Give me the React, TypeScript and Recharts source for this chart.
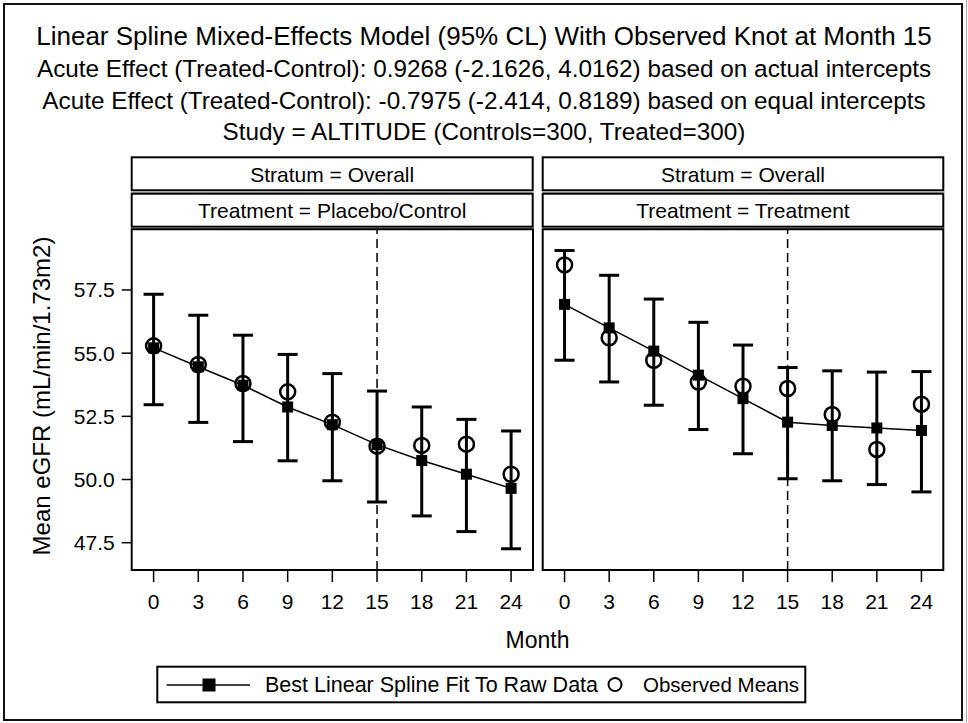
import React from 'react';
import {
  ComposedChart,
  Line,
  Scatter,
  XAxis,
  YAxis,
  ErrorBar,
  ReferenceLine,
  ReferenceArea,
} from 'recharts';

// visit months
const months = [0, 3, 6, 9, 12, 15, 18, 21, 24];

// placebo / control arm
const ctrlFit = [55.21, 54.46, 53.73, 52.87, 52.17, 51.38, 50.75, 50.21, 49.65];
const ctrlObs = [55.29, 54.55, 53.8, 53.47, 52.27, 51.32, 51.35, 51.4, 50.21];
const ctrlLo = [52.96, 52.26, 51.5, 50.74, 49.95, 49.11, 48.56, 47.94, 47.26];
const ctrlHi = [57.33, 56.5, 55.71, 54.95, 54.19, 53.5, 52.87, 52.38, 51.92];

// treatment arm
const trtFit = [56.93, 56.0, 55.08, 54.13, 53.2, 52.27, 52.14, 52.04, 51.94];
const trtObs = [58.49, 55.61, 54.72, 53.86, 53.69, 53.6, 52.57, 51.19, 52.98];
const trtLo = [54.72, 53.86, 52.94, 51.98, 51.02, 50.03, 49.95, 49.8, 49.51];
const trtHi = [59.06, 58.08, 57.14, 56.22, 55.32, 54.43, 54.3, 54.25, 54.27];

const yTicks = [47.5, 50, 52.5, 55, 57.5];
const knotMonth = 15;

const titleLines = [
  'Linear Spline Mixed-Effects Model (95% CL) With Observed Knot at Month 15',
  'Acute Effect (Treated-Control): 0.9268 (-2.1626, 4.0162) based on actual intercepts',
  'Acute Effect (Treated-Control): -0.7975 (-2.414, 0.8189) based on equal intercepts',
  'Study = ALTITUDE (Controls=300, Treated=300)',
];
const titleSizes = [26, 24.3, 24.3, 24.3];
const titleBaselines = [45, 77, 109, 140];

const FONT = '"Liberation Sans", Arial, sans-serif';
const X_DOMAIN: [number, number] = [-1.47, 25.47];
const Y_DOMAIN: [number, number] = [46.42, 59.9];

const buildRows = (fit: number[], obs: number[], lo: number[], hi: number[]) =>
  months.map((m, i) => ({
    month: m,
    fit: fit[i],
    obs: obs[i],
    ci: [fit[i] - lo[i], hi[i] - fit[i]],
  }));

const ctrlRows = buildRows(ctrlFit, ctrlObs, ctrlLo, ctrlHi);
const trtRows = buildRows(trtFit, trtObs, trtLo, trtHi);

const SquareDot = (props: any) => {
  const { cx, cy } = props;
  if (cx == null || cy == null) return null;
  return <rect x={cx - 5.5} y={cy - 5.5} width={11} height={11} fill="#000" />;
};

const OpenCircle = (props: any) => {
  const { cx, cy } = props;
  return <circle cx={cx} cy={cy} r={7.5} fill="none" stroke="#000" strokeWidth={2.5} />;
};

const tickStyle = { fontSize: 21, fill: '#000', fontFamily: FONT };

interface PanelProps {
  rows: typeof ctrlRows;
  showY: boolean;
  width: number;
  margin: { top: number; right: number; bottom: number; left: number };
}

const Panel: React.FC<PanelProps> = ({ rows, showY, width, margin }) => (
  <ComposedChart width={width} height={430} data={rows} margin={margin}>
    <XAxis
      dataKey="month"
      type="number"
      domain={X_DOMAIN}
      ticks={months}
      allowDataOverflow
      axisLine={false}
      tickSize={12}
      tickMargin={12}
      height={60}
      tickLine={{ stroke: '#000', strokeWidth: 1.5 }}
      tick={tickStyle}
      interval={0}
    />
    <YAxis
      type="number"
      domain={Y_DOMAIN}
      ticks={yTicks}
      allowDataOverflow
      hide={!showY}
      width={131.7}
      axisLine={false}
      tickSize={10}
      tickMargin={7}
      tickLine={{ stroke: '#000', strokeWidth: 1.5 }}
      tick={tickStyle}
      tickFormatter={(v: number) => v.toFixed(1)}
      interval={0}
    />
    <ReferenceArea
      x1={X_DOMAIN[0]}
      x2={X_DOMAIN[1]}
      y1={Y_DOMAIN[0]}
      y2={Y_DOMAIN[1]}
      fill="none"
      stroke="#000"
      strokeWidth={2}
      fillOpacity={0}
    />
    <ReferenceLine x={knotMonth} stroke="#000" strokeWidth={1.5} strokeDasharray="9 5" />
    <Line
      dataKey="fit"
      stroke="#000"
      strokeWidth={1.5}
      dot={<SquareDot />}
      activeDot={false}
      isAnimationActive={false}
    >
      <ErrorBar dataKey="ci" direction="y" width={10} stroke="#000" strokeWidth={3} />
    </Line>
    <Scatter dataKey="obs" shape={<OpenCircle />} isAnimationActive={false} />
  </ComposedChart>
);

const StripBox: React.FC<{ x: number; y: number; w: number; label: string }> = ({ x, y, w, label }) => (
  <g>
    <rect x={x} y={y} width={w} height={33} fill="#fff" stroke="#000" strokeWidth={2} />
    <line x1={x} y1={y + 35} x2={x + w} y2={y + 35} stroke="#999" strokeWidth={1} />
    <text x={x + w / 2} y={y + 24.2} textAnchor="middle" fontSize={21} fontFamily={FONT} fill="#000">
      {label}
    </text>
  </g>
);

export default function App() {
  return (
    <div style={{ position: 'absolute', left: 0, top: 0, width: 968, height: 723, background: '#fff' }}>
      <svg width={968} height={723} style={{ position: 'absolute', left: 0, top: 0 }}>
        <rect x={4} y={4} width={958} height={716} fill="none" stroke="#111" strokeWidth={2} />
        <line x1={966.5} y1={0} x2={966.5} y2={723} stroke="#aaa" strokeWidth={1} />
        {titleLines.map((t, i) => (
          <text
            key={i}
            x={484}
            y={titleBaselines[i]}
            textAnchor="middle"
            fontSize={titleSizes[i]}
            fontFamily={FONT}
            fill="#000"
          >
            {t}
          </text>
        ))}
        <StripBox x={131.7} y={157.3} w={401} label="Stratum = Overall" />
        <StripBox x={131.7} y={193.7} w={401} label="Treatment = Placebo/Control" />
        <StripBox x={542.7} y={157.3} w={400.6} label="Stratum = Overall" />
        <StripBox x={542.7} y={193.7} w={400.6} label="Treatment = Treatment" />
        <text
          transform="translate(50,396) rotate(-90)"
          textAnchor="middle"
          fontSize={24}
          fontFamily={FONT}
          fill="#000"
        >
          Mean eGFR (mL/min/1.73m2)
        </text>
        <text x={537.5} y={648} textAnchor="middle" fontSize={23} fontFamily={FONT} fill="#000">
          Month
        </text>
        <g>
          <rect x={157.3} y={666.7} width={648} height={35.6} fill="#fff" stroke="#000" strokeWidth={2} />
          <line x1={166.7} y1={685} x2={250} y2={685} stroke="#000" strokeWidth={1.5} />
          <rect x={202.5} y={678.5} width={13} height={13} fill="#000" />
          <text x={265} y={692} fontSize={21.5} fontFamily={FONT} fill="#000">
            Best Linear Spline Fit To Raw Data
          </text>
          <circle cx={615} cy={684.5} r={6.5} fill="none" stroke="#000" strokeWidth={2} />
          <text x={643} y={692} fontSize={20.5} fontFamily={FONT} fill="#000">
            Observed Means
          </text>
        </g>
      </svg>
      <div style={{ position: 'absolute', left: 0, top: 200 }}>
        <Panel rows={ctrlRows} showY width={540} margin={{ top: 29.3, right: 7, bottom: 0, left: 0 }} />
      </div>
      <div style={{ position: 'absolute', left: 540, top: 200 }}>
        <Panel rows={trtRows} showY={false} width={428} margin={{ top: 29.3, right: 24.7, bottom: 0, left: 2.7 }} />
      </div>
    </div>
  );
}
